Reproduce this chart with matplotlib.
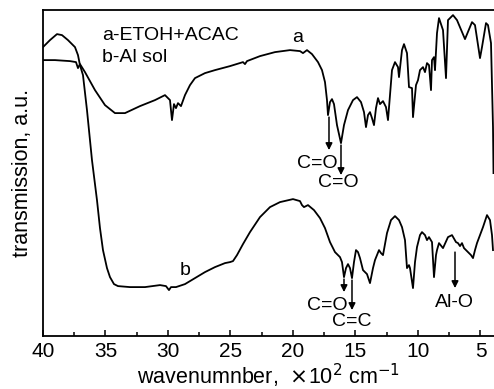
import matplotlib

matplotlib.use("Agg")
import matplotlib.pyplot as plt

plt.rcParams["font.family"] = ["Liberation Sans", "DejaVu Sans"]
plt.rcParams["mathtext.fontset"] = "dejavusans"

# wavenumber (x10^2 cm-1) and transmission (a.u.)
wn_a = [40.0, 39.04, 37.84, 37.36, 37.2, 37.04, 36.64, 35.84, 35.04, 34.24,
        33.44, 32.24, 31.04, 30.24, 29.84, 29.68, 29.52, 29.36, 29.2, 28.96,
        28.64, 28.24, 27.84, 27.04, 26.24, 25.04, 24.0, 23.84, 23.68, 22.64,
        21.44, 20.24, 19.44, 19.2, 18.88, 18.48, 18.0, 17.68, 17.44, 17.28,
        17.2, 17.04, 16.88, 16.72, 16.48, 16.16, 15.92, 15.6, 15.2, 14.88,
        14.56, 14.32, 14.16, 14.0, 13.84, 13.68, 13.52, 13.36, 13.2, 13.04,
        12.8, 12.56, 12.4, 12.08, 11.84, 11.6, 11.52, 11.28, 11.12, 10.88,
        10.72, 10.48, 10.4, 10.16, 10.0, 9.84, 9.6, 9.44, 9.28, 9.12,
        8.96, 8.88, 8.72, 8.64, 8.48, 8.32, 8.0, 7.76, 7.6, 7.2,
        6.88, 6.24, 5.68, 5.44, 5.04, 4.88, 4.56, 4.4, 4.16, 4.0, 3.96]
tr_a = [276, 276, 275, 274, 268, 272, 264, 246, 231, 223,
        223, 230, 236, 241, 236, 216, 232, 228, 233, 230,
        241, 251, 258, 263, 266, 270, 274, 272, 275, 280,
        284, 286, 285, 283, 286, 282, 274, 266, 254, 236,
        221, 234, 237, 232, 211, 193, 211, 226, 236, 239,
        234, 224, 209, 221, 224, 218, 211, 228, 238, 232,
        235, 229, 216, 266, 274, 269, 259, 286, 292, 283,
        249, 248, 219, 251, 256, 266, 269, 264, 273, 271,
        246, 276, 279, 266, 303, 318, 306, 258, 316, 321,
        316, 297, 314, 311, 278, 289, 313, 311, 293, 209, 163]

wn_b = [40.0, 39.44, 38.88, 38.48, 38.0, 37.44, 37.2, 37.04, 36.8, 36.48,
        36.08, 35.68, 35.44, 35.2, 34.88, 34.64, 34.32, 34.0, 33.04, 31.84,
        30.64, 30.16, 29.92, 29.76, 29.36, 28.64, 27.84, 27.04, 26.24, 25.44,
        25.04, 24.8, 24.48, 24.0, 23.44, 22.64, 21.84, 21.04, 20.0, 19.44,
        19.28, 19.12, 18.8, 18.32, 17.84, 17.44, 17.04, 16.64, 16.24, 16.08,
        15.92, 15.76, 15.6, 15.44, 15.28, 15.12, 14.96, 14.8, 14.64, 14.4,
        14.24, 14.08, 13.84, 13.6, 13.44, 13.12, 12.96, 12.8, 12.48, 12.16,
        11.84, 11.52, 11.28, 11.04, 10.88, 10.72, 10.64, 10.4, 10.24, 10.08,
        9.84, 9.68, 9.44, 9.28, 9.12, 8.88, 8.72, 8.56, 8.48, 8.32,
        8.0, 7.6, 7.28, 6.96, 6.8, 6.64, 6.48, 6.32, 6.0, 5.76,
        5.6, 5.44, 5.28, 4.8, 4.48, 4.24, 4.08, 4.0]
tr_b = [289, 296, 302, 301, 296, 289, 281, 271, 261, 226,
        176, 136, 108, 86, 68, 59, 52, 50, 49, 49,
        51, 50, 46, 49, 49, 52, 58, 64, 69, 73,
        74, 75, 81, 92, 104, 119, 129, 134, 137, 135,
        131, 129, 131, 126, 118, 108, 94, 84, 79, 74,
        59, 68, 72, 68, 58, 74, 86, 84, 78, 66,
        64, 62, 53, 68, 76, 86, 83, 81, 103, 116,
        120, 116, 109, 96, 68, 71, 68, 48, 74, 89,
        101, 104, 101, 96, 99, 94, 59, 81, 86, 93,
        88, 99, 101, 94, 93, 90, 93, 88, 84, 81,
        78, 86, 93, 109, 121, 116, 101, 86]

legend_lines = ["a-ETOH+ACAC", "b-Al sol"]

# (label, arrow x, arrow top, arrow tip, label x, label y)
bands = [
    ("C=O", 17.12, 219, 186, 18.08, 173),
    ("C=O", 16.16, 191, 161, 16.4, 154),
    ("C=O", 15.92, 57, 44, 17.28, 31),
    ("C=C", 15.28, 56, 26, 15.28, 15),
    ("Al-O", 7.04, 84, 48, 7.12, 34),
]

fig = plt.figure(figsize=(4.94, 3.89), dpi=100)
ax = fig.add_axes([0.087, 0.136, 0.913, 0.838])

ax.plot(wn_a, tr_a, color="black", lw=1.3)
ax.plot(wn_b, tr_b, color="black", lw=1.3)

ax.set_xlim(40, 3.92)
ax.set_ylim(0, 326)
ax.set_xticks([40, 35, 30, 25, 20, 15, 10, 5])
ax.set_xticks([37.5, 32.5, 27.5, 22.5, 17.5, 12.5, 7.5], minor=True)
ax.set_yticks([])
ax.tick_params(axis="x", which="both", direction="in", labelsize=15,
               top=False, width=1.1)
ax.tick_params(axis="x", which="major", length=4, pad=4)
ax.tick_params(axis="x", which="minor", length=3)
for side in ["left", "bottom", "top"]:
    ax.spines[side].set_linewidth(1.3)
ax.spines["right"].set_visible(False)

ax.set_xlabel("wavenumnber,  $\\times$10$^{2}$ cm$^{-1}$", fontsize=15.5, labelpad=1)
ax.set_ylabel("transmission, a.u.", fontsize=15.5, labelpad=7)

ax.text(35.28, 301, legend_lines[0], fontsize=14, va="center")
ax.text(35.28, 279, legend_lines[1], fontsize=14, va="center")
ax.text(19.6, 299, "a", fontsize=14, ha="center", va="center")
ax.text(28.64, 66, "b", fontsize=14, ha="center", va="center")

for label, x, y0, y1, lx, ly in bands:
    ax.annotate("", xy=(x, y1), xytext=(x, y0),
                arrowprops=dict(arrowstyle="-|>", color="black", lw=1.1,
                                mutation_scale=10, shrinkA=0, shrinkB=0))
    ax.text(lx, ly, label, fontsize=14, ha="center", va="center")

fig.savefig("out.png", dpi=100)
